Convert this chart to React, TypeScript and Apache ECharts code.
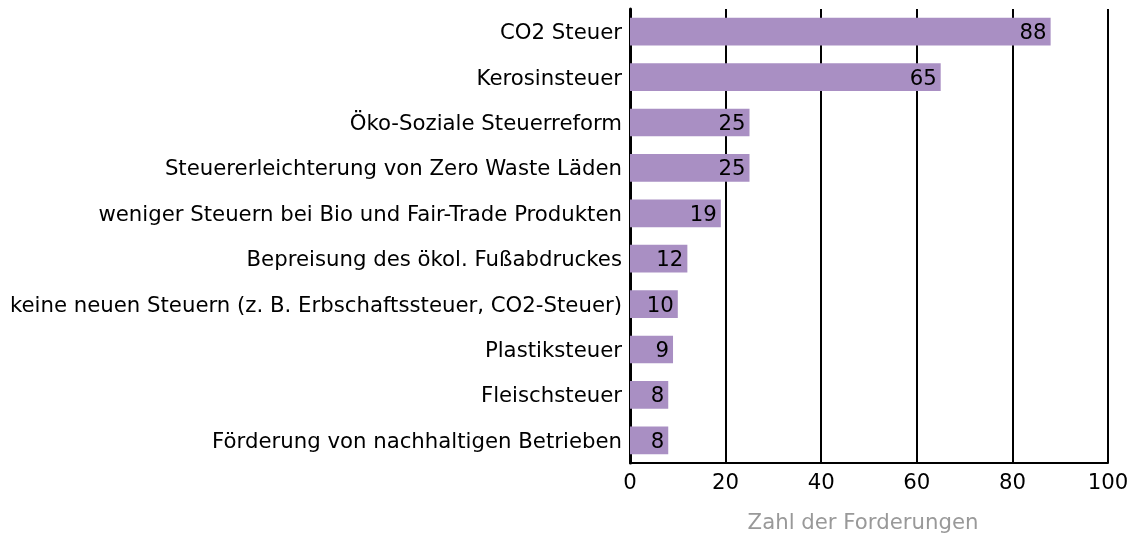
import React, { useEffect, useRef } from "react";
import * as echarts from "echarts";

const categories = [
  "CO2 Steuer",
  "Kerosinsteuer",
  "Öko-Soziale Steuerreform",
  "Steuererleichterung von Zero Waste Läden",
  "weniger Steuern bei Bio und Fair-Trade Produkten",
  "Bepreisung des ökol. Fußabdruckes",
  "keine neuen Steuern (z. B. Erbschaftssteuer, CO2-Steuer)",
  "Plastiksteuer",
  "Fleischsteuer",
  "Förderung von nachhaltigen Betrieben",
];
const values = [88, 65, 25, 25, 19, 12, 10, 9, 8, 8];
const axisName = "Zahl der Forderungen";

export default function App() {
  const ref = useRef<HTMLDivElement>(null);
  useEffect(() => {
    if (!ref.current) return;
    const chart = echarts.init(ref.current, undefined, { renderer: "svg" });
    const font = "DejaVu Sans";
    const fs = 21.25;
    chart.setOption({
      animation: false,
      textStyle: { fontFamily: font },
      grid: {
        left: 630,
        right: 25,
        top: 9,
        bottom: 70,
        containLabel: false,
        outerBoundsMode: "none",
      },
      xAxis: {
        type: "value",
        min: 0,
        max: 100,
        interval: 20,
        name: axisName,
        nameLocation: "middle",
        nameGap: 48,
        nameTextStyle: {
          color: "#999999",
          fontSize: fs,
          fontFamily: font,
          padding: [0, 12, 0, 0],
        },
        axisLine: { show: true, lineStyle: { color: "#000", width: 2 } },
        axisTick: { show: false },
        axisLabel: { color: "#000", fontSize: fs, fontFamily: font, margin: 8 },
        splitLine: { show: true, lineStyle: { color: "#000", width: 2 } },
      },
      yAxis: {
        type: "category",
        data: categories,
        inverse: true,
        axisLine: { show: true, onZero: false, lineStyle: { color: "#000", width: 3 } },
        axisTick: { show: false },
        axisLabel: { color: "#000", fontSize: fs, fontFamily: font, margin: 8 },
        splitLine: { show: false },
      },
      series: [
        {
          type: "bar",
          data: values,
          barCategoryGap: "39%",
          itemStyle: { color: "#a98fc3" },
          label: {
            show: true,
            position: "insideRight",
            color: "#000",
            fontSize: fs,
            fontFamily: font,
            distance: 4,
          },
        },
      ],
    });
    return () => chart.dispose();
  }, []);
  return (
    <div
      ref={ref}
      style={{ position: "fixed", left: 0, top: 0, width: 1133, height: 533 }}
    />
  );
}
